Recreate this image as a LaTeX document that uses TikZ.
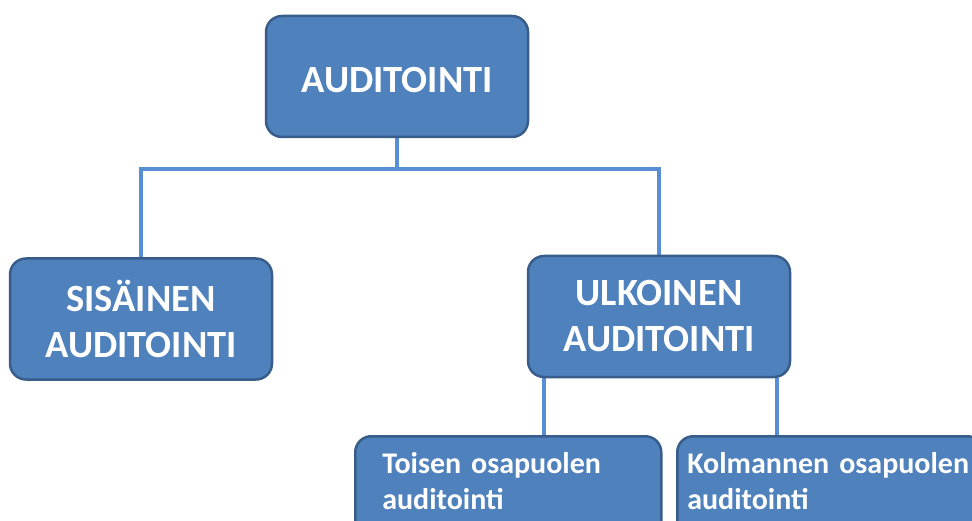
\documentclass[tikz,border=0pt]{standalone}
\usepackage{fontspec}
\setmainfont{Carlito}
\usetikzlibrary{backgrounds}
\definecolor{boxfill}{RGB}{79,129,189}
\definecolor{boxline}{RGB}{56,93,138}
\definecolor{linkblue}{RGB}{88,142,213}
\begin{document}
\begin{tikzpicture}[x=1pt,y=-1pt,
  box/.style={draw=boxline, line width=2.5pt, fill=boxfill, rounded corners=16pt,
    text=white, font=\bfseries\fontsize{38.5}{46}\selectfont, align=center,
    inner sep=0pt, minimum width=262pt, minimum height=121pt},
  subbox/.style={draw=boxline, line width=2.5pt, fill=boxfill, rounded corners=16pt,
    text=white, font=\bfseries\fontsize{30}{36}\selectfont, align=left,
    anchor=north west, inner ysep=17pt, text height=20pt, text depth=70pt},
  link/.style={draw=linkblue, line width=4pt}]
\useasboundingbox (0,0) rectangle (972,521);
\clip (0,0) rectangle (972,521);

% main hierarchy
\node[box, text height=32pt, text depth=0pt] (top) at (397,76.5) {AUDITOINTI};
\node[box] (inner) at (141,319) {SIS\"AINEN\\AUDITOINTI};
\node[box] (outer) at (659,316.5) {ULKOINEN\\AUDITOINTI};

% kinds of external audit
\node[subbox, inner xsep=27pt, text width=252pt] (second) at (354,435)
  {Toisen osapuolen\\auditointi};
\node[subbox, inner xsep=10pt, text width=286pt] (third) at (676,435)
  {Kolmannen osapuolen\\auditointi};

% connectors
\begin{scope}[on background layer]
  \path (top.south) ++(0,31) coordinate (split);
  \draw[link] (top.south) -- (split);
  \draw[link] (inner.north) |- (split) -| (outer.north);
  \coordinate (c1) at ([xshift=17pt]outer.south west);
  \coordinate (c2) at ([xshift=-14pt]outer.south east);
  \draw[link] (c1) -- (c1 |- second.north);
  \draw[link] (c2) -- (c2 |- third.north);
\end{scope}
\end{tikzpicture}
\end{document}
